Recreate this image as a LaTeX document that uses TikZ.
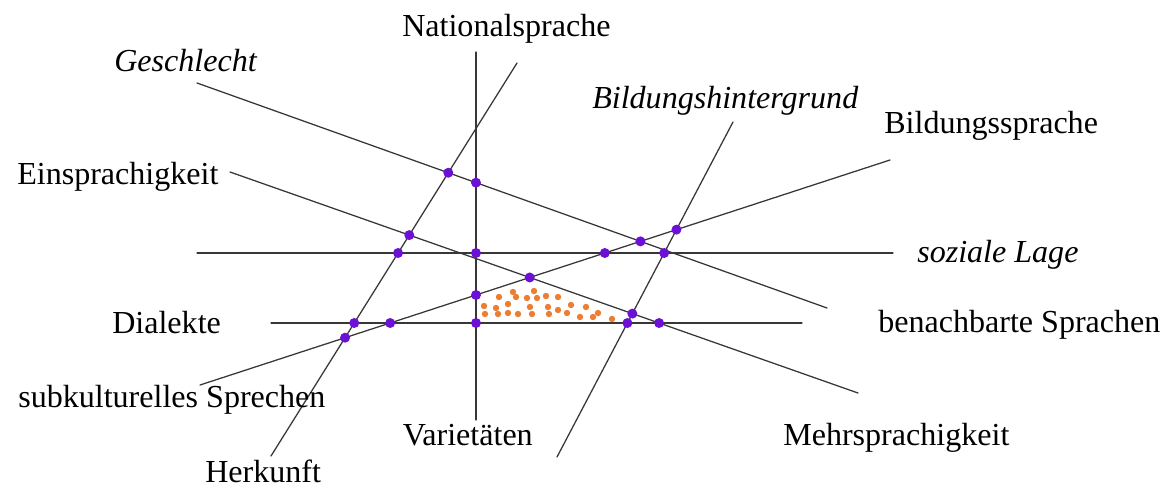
\documentclass[tikz,border=0pt]{standalone}
\usepackage{fontspec}
\setmainfont{Liberation Serif}
\usetikzlibrary{intersections}
\definecolor{markviolet}{RGB}{108,16,214}
\definecolor{dotorange}{RGB}{237,125,49}
\definecolor{linegray}{RGB}{55,55,55}
\tikzset{
  dim/.style={line width=0.9pt,draw=linegray},
  lbl/.style={inner sep=0pt,font=\fontsize{22.8}{26}\selectfont},
  crossmark/.style={fill=markviolet},
}
\newcommand\crossat[2]{%
  \fill[crossmark,name intersections={of=p-#1 and p-#2}] (intersection-1) circle (1.25mm);}

\begin{document}
\begin{tikzpicture}[x=0.025cm,y=-0.025cm,line cap=round,line join=round]
  \useasboundingbox (0,0) rectangle (1172,488);
  % ends of the lines
  \coordinate (nat-a) at (476,52);  \coordinate (nat-b) at (476,420);
  \coordinate (her-a) at (517,63);  \coordinate (her-b) at (271,456);
  \coordinate (ges-a) at (197,83);  \coordinate (ges-b) at (827,308);
  \coordinate (ein-a) at (230,172); \coordinate (ein-b) at (858,393);
  \coordinate (soz-a) at (197,253); \coordinate (soz-b) at (893,253);
  \coordinate (dia-a) at (271,323); \coordinate (dia-b) at (802,323);
  \coordinate (bsp-a) at (200,385); \coordinate (bsp-b) at (890,160);
  \coordinate (bhg-a) at (733,122); \coordinate (bhg-b) at (557,457);
  % lines
  \draw[dim,name path=p-nat] (nat-a) -- (nat-b);
  \draw[dim,name path=p-her] (her-a) -- (her-b);
  \draw[dim,name path=p-ges] (ges-a) -- (ges-b);
  \draw[dim,name path=p-ein] (ein-a) -- (ein-b);
  \draw[dim,name path=p-soz] (soz-a) -- (soz-b);
  \draw[dim,name path=p-dia] (dia-a) -- (dia-b);
  \draw[dim,name path=p-bsp] (bsp-a) -- (bsp-b);
  \draw[dim,name path=p-bhg] (bhg-a) -- (bhg-b);
  % labels
  \node[lbl,anchor=base west] (nat) at (402,36) {Nationalsprache};
  \node[lbl,anchor=base east] (ges) at (257,71) {\itshape Geschlecht};
  \node[lbl,anchor=base west] (bhg) at (592,108) {\itshape Bildungshintergrund};
  \node[lbl,anchor=base west] (bsp) at (884,133) {Bildungssprache};
  \node[lbl,anchor=base west] (ein) at (17,184) {Einsprachigkeit};
  \node[lbl,anchor=base west] (soz) at (917,262) {\itshape soziale Lage};
  \node[lbl,anchor=base west] (dia) at (112,333) {Dialekte};
  \node[lbl,anchor=base west] (nbs) at (878,332) {benachbarte Sprachen};
  \node[lbl,anchor=base west] (sub) at (18,407) {subkulturelles Sprechen};
  \node[lbl,anchor=base east] (var) at (533,445) {Varietäten};
  \node[lbl,anchor=base west] (meh) at (783,445) {Mehrsprachigkeit};
  \node[lbl,anchor=base west] (her) at (205,482) {Herkunft};
  % dotted triangle
  \foreach \px/\py in {484/306,485/314,496/308,498/314,499/297,508/304,508/313,
      513/292,516/297,518/314,527/298,530/307,532/314,534/291,537/298,546/296,
      548/307,549/314,558/297,558/310,567/313,571/305,580/317,586/307,593/317,
      598/313,612/319}
    \fill[dotorange] (\px,\py) circle (0.8mm);
  % crossings
  \foreach \a/\b in {ges/her,ges/nat,ein/her,soz/her,soz/nat,ein/bsp,bsp/nat,
      dia/nat,bsp/soz,ges/bsp,bhg/bsp,bhg/soz,ein/bhg,dia/bhg,ein/dia,bsp/dia,
      her/dia,her/bsp}
    {\crossat{\a}{\b}}
\end{tikzpicture}
\end{document}
